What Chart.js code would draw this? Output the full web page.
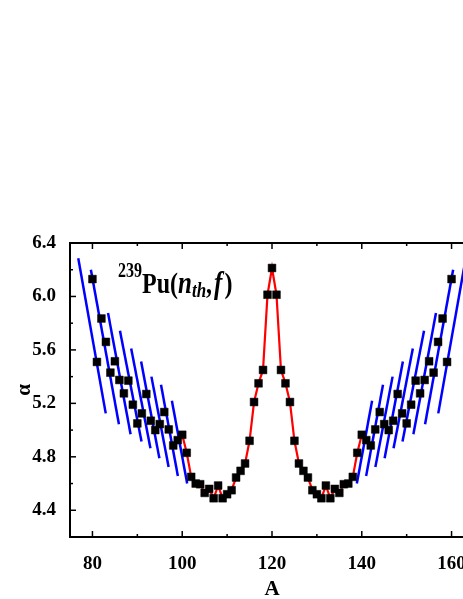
<!DOCTYPE html>
<html>
<head>
<meta charset="utf-8">
<script src="https://cdn.jsdelivr.net/npm/chart.js@4.4.1/dist/chart.umd.min.js"></script>
<style>
html, body { margin: 0; padding: 0; overflow: hidden; background: #fff; }
#wrap { width: 480px; height: 599px; }
</style>
</head>
<body>
<div id="wrap"><canvas id="myChart"></canvas></div>
<script>
// ==========================================
// Data
// ==========================================

const massNumbers = [
   80, 81, 82, 83, 84, 85, 86, 87, 88, 89,
   90, 91, 92, 93, 94, 95, 96, 97, 98, 99,
   100, 101, 102, 103, 104, 105, 106, 107, 108, 109,
   110, 111, 112, 113, 114, 115, 116, 117, 118, 119,
   120,
   121, 122, 123, 124, 125, 126, 127, 128, 129, 130,
   131, 132, 133, 134, 135, 136, 137, 138, 139, 140,
   141, 142, 143, 144, 145, 146, 147, 148, 149, 150,
   151, 152, 153, 154, 155, 156, 157, 158, 159, 160
];

const alphaValues = [
   6.13, 5.51, 5.835, 5.66, 5.43, 5.515, 5.375, 5.275, 5.37, 5.19,
   5.05, 5.125, 5.27, 5.07, 5.00, 5.045, 5.135, 5.005, 4.885, 4.925,
   4.965, 4.83, 4.65, 4.60, 4.595, 4.53, 4.56, 4.49, 4.585, 4.49,
   4.52, 4.55, 4.645, 4.695, 4.75, 4.92, 5.21, 5.35, 5.45, 6.013,
   6.213,
   6.013, 5.45, 5.35, 5.21, 4.92, 4.75, 4.695, 4.645, 4.55, 4.52,
   4.49, 4.585, 4.49, 4.56, 4.53, 4.595, 4.60, 4.65, 4.83, 4.965,
   4.925, 4.885, 5.005, 5.135, 5.045, 5.00, 5.07, 5.27, 5.125, 5.05,
   5.19, 5.37, 5.275, 5.375, 5.515, 5.43, 5.66, 5.835, 5.51, 6.13
];

// red curve runs over this range of A
const curveFrom = 100;
const curveTo = 140;

// blue chain lines: [A start, alpha start, A end, alpha end]
const chainsLight = [
   [76.84, 6.286, 82.96, 5.125],
   [79.65, 6.200, 85.90, 5.044],
   [83.47, 5.876, 88.50, 4.969],
   [86.13, 5.743, 90.93, 4.914],
   [88.63, 5.610, 92.92, 4.864],
   [90.84, 5.513, 94.91, 4.790],
   [93.14, 5.400, 96.97, 4.724],
   [95.27, 5.339, 99.03, 4.657],
   [97.70, 5.219, 101.10, 4.600]
];
const chainsHeavy = [
   [163.16, 6.286, 157.04, 5.125],
   [160.35, 6.200, 154.10, 5.044],
   [156.53, 5.876, 151.50, 4.969],
   [153.87, 5.743, 149.07, 4.914],
   [151.37, 5.610, 147.08, 4.864],
   [149.16, 5.513, 145.09, 4.790],
   [146.86, 5.400, 143.03, 4.724],
   [144.73, 5.339, 140.97, 4.657],
   [142.30, 5.219, 138.90, 4.600]
];

const xRange = [75, 165];
const yRange = [4.2, 6.4];
const xTicks = [80, 100, 120, 140, 160];
const xMinorTicks = [90, 110, 130, 150];
const yTicks = [4.4, 4.8, 5.2, 5.6, 6.0, 6.4];
const yMinorTicks = [4.6, 5.0, 5.4, 5.8, 6.2];

// ==========================================
// Datasets
// ==========================================

const serif = "'Liberation Serif', 'Times New Roman', serif";

let points = massNumbers.map((a, i) => ({ x: a, y: alphaValues[i] }));
let curve = points.filter((p) => p.x >= curveFrom && p.x <= curveTo);

let datasets = [{
   label: "alpha",
   data: points,
   pointStyle: "rect",
   pointRadius: 5.5,
   pointBackgroundColor: "#000",
   pointBorderColor: "#000",
   pointBorderWidth: 0.5,
   showLine: false,
   order: 0
}, {
   label: "curve",
   data: curve,
   borderColor: "#ff0000",
   borderWidth: 2.2,
   pointRadius: 0,
   showLine: true,
   order: 1
}];

chainsLight.concat(chainsHeavy).forEach((el, i) => {
   datasets.push({
      label: "chain " + i,
      data: [{ x: el[0], y: el[1] }, { x: el[2], y: el[3] }],
      borderColor: "#0000ff",
      borderWidth: 2.5,
      pointRadius: 0,
      showLine: true,
      order: 2
   });
});

// ==========================================
// Frame, inward ticks, labels
// ==========================================

function drawRuns(ctx, x, y, runs) {
   runs.forEach((r) => {
      ctx.font = r.font;
      ctx.fillText(r.text, x, y + (r.dy || 0));
      x += ctx.measureText(r.text).width + (r.gap || 0);
   });
}

const framePlugin = {
   id: "frame",
   afterDraw(chart) {
      const { ctx, chartArea: a, scales } = chart;
      const xs = scales.x, ys = scales.y;
      ctx.save();
      ctx.strokeStyle = "#000";
      ctx.lineWidth = 2;
      ctx.strokeRect(a.left, a.top, a.right - a.left, a.bottom - a.top);

      ctx.lineWidth = 1.5;
      const seg = (x1, y1, x2, y2) => {
         ctx.beginPath();
         ctx.moveTo(x1, y1);
         ctx.lineTo(x2, y2);
         ctx.stroke();
      };
      xTicks.forEach((v) => {
         const px = xs.getPixelForValue(v);
         seg(px, a.bottom, px, a.bottom - 6);
         seg(px, a.top, px, a.top + 6);
      });
      xMinorTicks.forEach((v) => {
         const px = xs.getPixelForValue(v);
         seg(px, a.bottom, px, a.bottom - 3);
         seg(px, a.top, px, a.top + 3);
      });
      yTicks.forEach((v) => {
         const py = ys.getPixelForValue(v);
         seg(a.left, py, a.left + 6, py);
         seg(a.right, py, a.right - 6, py);
      });
      yMinorTicks.forEach((v) => {
         const py = ys.getPixelForValue(v);
         seg(a.left, py, a.left + 3, py);
         seg(a.right, py, a.right - 3, py);
      });

      ctx.fillStyle = "#000";
      ctx.textBaseline = "alphabetic";

      // axis titles
      ctx.textAlign = "center";
      ctx.font = "bold 21px " + serif;
      ctx.fillText("A", (a.left + a.right) / 2, a.bottom + 58);
      ctx.save();
      ctx.translate(30, (a.top + a.bottom) / 2);
      ctx.rotate(-Math.PI / 2);
      ctx.font = "bold 21px " + serif;
      ctx.fillText("α", 0, 0);
      ctx.restore();

      // reaction label (text is a bit tall in the original)
      ctx.textAlign = "left";
      ctx.save();
      ctx.translate(a.left + 48, a.top + 50);
      ctx.scale(1, 1.25);
      drawRuns(ctx, 0, 0, [
         { text: "239", font: "bold 16px " + serif, dy: -13 },
         { text: "Pu(", font: "bold 24px " + serif },
         { text: "n", font: "italic bold 25px " + serif },
         { text: "th", font: "italic bold 17px " + serif, dy: 3.5 },
         { text: ",", font: "bold 24px " + serif, gap: 2 },
         { text: "f", font: "italic bold 25px " + serif, gap: 2 },
         { text: ")", font: "bold 24px " + serif }
      ]);
      ctx.restore();
      ctx.restore();
   }
};

// ==========================================
// Chart
// ==========================================

const ctx = document.getElementById("myChart");

let chart = new Chart(ctx, {
   type: "scatter",
   data: { datasets: datasets },
   options: {
      responsive: true,
      maintainAspectRatio: false,
      animation: false,
      layout: { padding: { left: 0, top: 243, right: 2, bottom: 0 } },
      plugins: {
         legend: { display: false },
         tooltip: { enabled: false }
      },
      scales: {
         x: {
            type: "linear",
            min: xRange[0],
            max: xRange[1],
            grid: { display: false },
            border: { display: false },
            afterBuildTicks: (s) => { s.ticks = xTicks.map((v) => ({ value: v })); },
            afterFit: (s) => { s.height = 62; },
            ticks: {
               color: "#000",
               padding: 8,
               maxRotation: 0,
               font: { family: serif, size: 19, weight: "bold" }
            }
         },
         y: {
            type: "linear",
            min: yRange[0],
            max: yRange[1],
            grid: { display: false },
            border: { display: false },
            afterBuildTicks: (s) => { s.ticks = yTicks.map((v) => ({ value: v })); },
            afterFit: (s) => { s.width = 70; },
            ticks: {
               color: "#000",
               padding: 6,
               font: { family: serif, size: 19, weight: "bold" },
               callback: (v) => Number(v).toFixed(1)
            }
         }
      }
   },
   plugins: [framePlugin]
});
</script>
</body>
</html>
